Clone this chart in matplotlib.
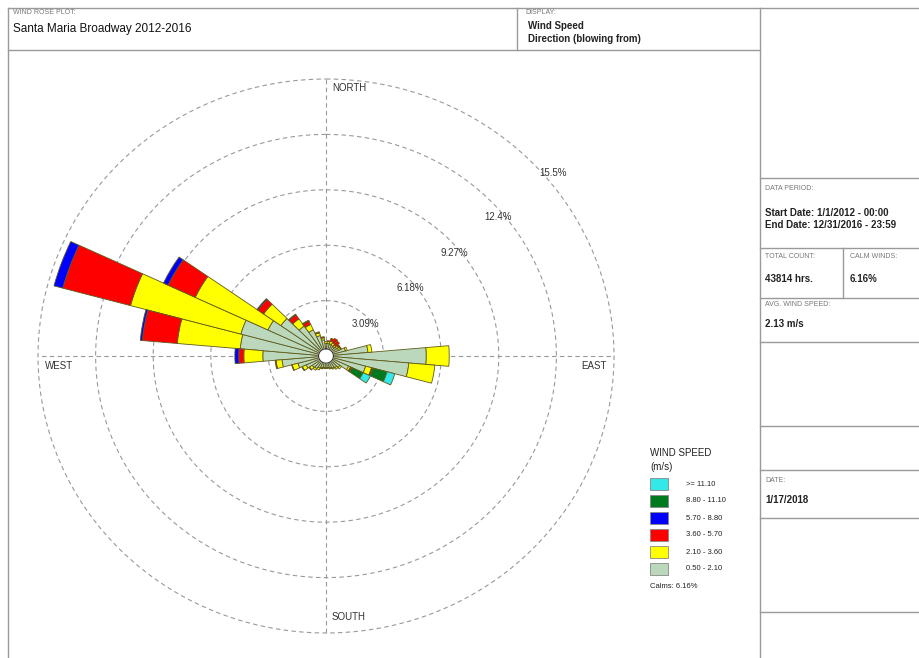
import numpy as np
import matplotlib
matplotlib.use('Agg')
import matplotlib.pyplot as plt
from matplotlib.patches import Rectangle
from matplotlib.lines import Line2D

W, H = 919, 658

# wind directions (blowing from), degrees, 10 degree sectors
directions = np.arange(0, 360, 10)

# frequency (%) per speed class, one value per direction
spd_050_210 = [0.30, 0.30, 0.30, 0.25, 0.25, 0.30, 0.35, 0.68, 1.86, 4.98, 4.06, 1.80,
               0.94, 0.51, 0.41, 0.35, 0.30, 0.25, 0.25, 0.25, 0.30, 0.35, 0.46, 0.51,
               0.78, 1.16, 1.97, 2.99, 4.22, 4.33, 3.04, 2.56, 1.64, 1.21, 0.78, 0.51]
spd_210_360 = [0.11, 0.11, 0.16, 0.16, 0.10, 0.11, 0.11, 0.10, 0.21, 1.23, 1.40, 0.33,
               0.11, 0.11, 0.10, 0.06, 0.05, 0.05, 0.05, 0.05, 0.05, 0.11, 0.11, 0.17,
               0.22, 0.32, 0.32, 1.02, 3.39, 6.13, 4.30, 1.13, 0.49, 0.33, 0.16, 0.11]
spd_360_570 = [0.00, 0.05, 0.16, 0.27, 0.27, 0.10, 0.05, 0.00, 0.00, 0.00, 0.00, 0.05,
               0.06, 0.00, 0.00, 0.00, 0.00, 0.00, 0.00, 0.00, 0.00, 0.00, 0.00, 0.03,
               0.03, 0.03, 0.05, 0.27, 1.88, 3.76, 1.61, 0.37, 0.27, 0.21, 0.06, 0.06]
spd_570_880 = [0.00, 0.00, 0.00, 0.00, 0.00, 0.00, 0.00, 0.00, 0.00, 0.00, 0.00, 0.05,
               0.05, 0.00, 0.00, 0.00, 0.00, 0.00, 0.00, 0.00, 0.00, 0.00, 0.00, 0.00,
               0.00, 0.00, 0.00, 0.21, 0.11, 0.49, 0.27, 0.06, 0.05, 0.05, 0.00, 0.00]
spd_880_1110 = [0.00] * 11 + [0.76, 0.64] + [0.00] * 23
spd_1110_up = [0.00] * 11 + [0.43, 0.43] + [0.00] * 23

speed_series = [spd_050_210, spd_210_360, spd_360_570, spd_570_880, spd_880_1110, spd_1110_up]
speed_colors = ['#bcd8bc', '#ffff00', '#ff0000', '#0000ff', '#007a1e', '#33e8e8']
speed_labels = ['0.50 - 2.10', '2.10 - 3.60', '3.60 - 5.70', '5.70 - 8.80', '8.80 - 11.10', '>= 11.10']

rings = [3.09, 6.18, 9.27, 12.36, 15.45]
ring_labels = ['3.09%', '6.18%', '9.27%', '12.4%', '15.5%']
calm_radius = 0.40

plt.rcParams['font.family'] = ['Liberation Sans', 'DejaVu Sans']

fig = plt.figure(figsize=(W / 100, H / 100), dpi=100)


def px(x, y):
    return x / W, 1 - y / H


def hline(y, x0, x1):
    fig.add_artist(Line2D([x0 / W, x1 / W], [1 - y / H, 1 - y / H], color='#9a9a9a', lw=1))


def vline(x, y0, y1):
    fig.add_artist(Line2D([x / W, x / W], [1 - y0 / H, 1 - y1 / H], color='#9a9a9a', lw=1))


# frame
hline(8, 8, 919)
hline(50, 8, 760)
vline(8, 8, 658)
vline(517, 8, 50)
vline(760, 8, 658)
for y in [178, 248, 298, 342, 426, 470, 518, 612]:
    hline(y, 760, 919)
vline(843, 248, 298)

small = dict(fontsize=5, color='#777777', va='center')
bold = dict(fontsize=7, color='#222222', va='center', fontweight='bold')

fig.text(*px(13, 13), 'WIND ROSE PLOT:', **small)
fig.text(*px(13, 29), 'Santa Maria Broadway 2012-2016', fontsize=8.5, color='#111111', va='center')
fig.text(*px(525, 13), 'DISPLAY:', **small)
fig.text(*px(528, 26), 'Wind Speed', **bold)
fig.text(*px(528, 39), 'Direction (blowing from)', **bold)

fig.text(*px(765, 189), 'DATA PERIOD:', **small)
fig.text(*px(765, 213), 'Start Date: 1/1/2012 - 00:00', **bold)
fig.text(*px(765, 225), 'End Date: 12/31/2016 - 23:59', **bold)
fig.text(*px(765, 257), 'TOTAL COUNT:', **small)
fig.text(*px(850, 257), 'CALM WINDS:', **small)
fig.text(*px(765, 279), '43814 hrs.', **bold)
fig.text(*px(850, 279), '6.16%', **bold)
fig.text(*px(765, 304), 'AVG. WIND SPEED:', **small)
fig.text(*px(765, 324), '2.13 m/s', **bold)
fig.text(*px(765, 480), 'DATE:', **small)
fig.text(*px(765, 500), '1/17/2018', **bold)

# rose axes (slightly wider than tall, like the reference)
cx, cy, rx, ry = 326, 356, 288, 277
ax = fig.add_axes([(cx - rx) / W, (H - cy - ry) / H, 2 * rx / W, 2 * ry / H], projection='polar')
ax.set_aspect('auto')
ax.set_theta_zero_location('N')
ax.set_theta_direction(-1)
ax.set_ylim(0, rings[-1])
ax.axis('off')

t = np.linspace(0, 2 * np.pi, 361)
for r in rings:
    ax.plot(t, np.full_like(t, r), color='#999999', lw=0.8, ls=(0, (4, 3)), zorder=1, clip_on=False)
for a in [0, 0.5 * np.pi, np.pi, 1.5 * np.pi]:
    ax.plot([a, a], [0, rings[-1]], color='#999999', lw=0.8, ls=(0, (4, 3)), zorder=1, clip_on=False)

theta = np.deg2rad(directions)
width = np.deg2rad(10)
bottom = np.full(len(directions), calm_radius)
for vals, col in zip(speed_series, speed_colors):
    vals = np.array(vals)
    m = vals > 0
    ax.bar(theta[m], vals[m], width=width, bottom=bottom[m], color=col,
           edgecolor='#5e5a1c', linewidth=0.6, zorder=3)
    bottom = bottom + vals

ax.fill(t, np.full_like(t, calm_radius), color='white', zorder=4)
ax.plot(t, np.full_like(t, calm_radius), color='#333333', lw=0.8, zorder=5)

for r, lab in zip(rings, ring_labels):
    rr = r + 0.45 if r == rings[-1] else r - 0.3
    ax.text(np.deg2rad(50), rr, lab, fontsize=7, color='#333333', ha='center', va='center', zorder=6)

fig.text(*px(332, 88), 'NORTH', fontsize=7, color='#333333', va='center')
fig.text(*px(332, 617), 'SOUTH', fontsize=7, color='#333333', va='center')
fig.text(*px(45, 366), 'WEST', fontsize=7, color='#333333', va='center')
fig.text(*px(581, 366), 'EAST', fontsize=7, color='#333333', va='center')

# legend
fig.text(*px(650, 453), 'WIND SPEED', fontsize=7, color='#222222', va='center')
fig.text(*px(650, 467), '(m/s)', fontsize=7, color='#222222', va='center')
for i, (lab, col) in enumerate(zip(speed_labels[::-1], speed_colors[::-1])):
    yc = 484 + 17 * i
    x0, y0 = px(650, yc + 6)
    fig.add_artist(Rectangle((x0, y0), 18 / W, 12 / H, facecolor=col, edgecolor='#888888', lw=0.6))
    fig.text(*px(686, yc), lab, fontsize=5.5, color='#222222', va='center')
fig.text(*px(650, 587), 'Calms: 6.16%', fontsize=5.5, color='#222222', va='center')

fig.savefig('out.png', dpi=100)
